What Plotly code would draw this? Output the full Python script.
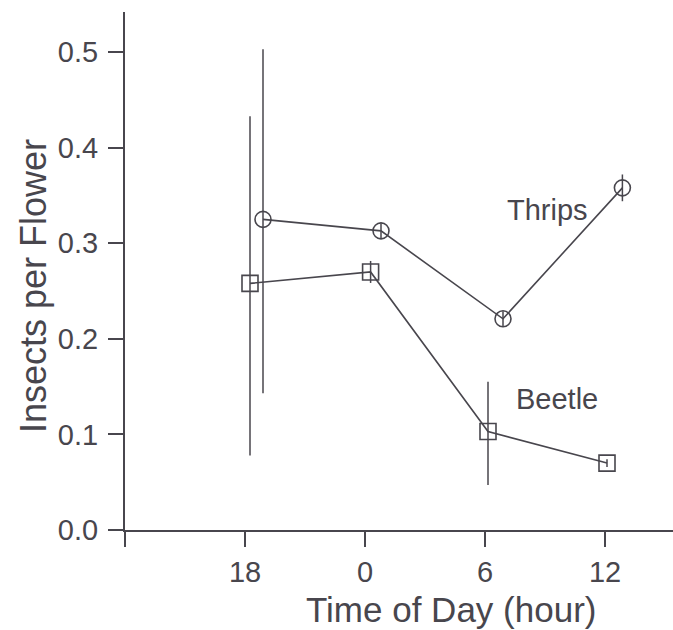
import plotly.graph_objects as go

# Hours since 12:00 (noon) on the first day; tick labels show clock time
tick_hours = [0, 6, 12, 18, 24]
tick_labels = ["", "18", "0", "6", "12"]

# Thrips visits (circles)
thrips_hours = [6.9, 12.8, 18.9, 24.87]
thrips_mean = [0.325, 0.313, 0.221, 0.358]
thrips_err_up = [0.178, 0.008, 0.008, 0.014]
thrips_err_down = [0.182, 0.008, 0.008, 0.014]

# Beetle visits (squares)
beetle_hours = [6.25, 12.28, 18.15, 24.1]
beetle_mean = [0.258, 0.270, 0.103, 0.070]
beetle_err_up = [0.175, 0.0115, 0.052, 0.004]
beetle_err_down = [0.180, 0.0115, 0.056, 0.004]

INK = "#48464d"
FONT = "Liberation Sans"

fig = go.Figure()


def add_series(x, y, up, down, symbol):
    fig.add_trace(go.Scatter(
        x=x, y=y,
        mode="lines+markers",
        line=dict(color=INK, width=1.6),
        marker=dict(symbol=symbol, size=16, color=INK,
                    line=dict(color=INK, width=1.6)),
        error_y=dict(type="data", symmetric=False, array=up, arrayminus=down,
                     color=INK, thickness=1.5, width=0),
        cliponaxis=False,
        showlegend=False,
    ))


add_series(thrips_hours, thrips_mean, thrips_err_up, thrips_err_down, "circle-open")
add_series(beetle_hours, beetle_mean, beetle_err_up, beetle_err_down, "square-open")

# Series labels
fig.add_annotation(x=21.1, y=0.335, text="Thrips", showarrow=False,
                   font=dict(family=FONT, size=29, color=INK))
fig.add_annotation(x=21.6, y=0.137, text="Beetle", showarrow=False,
                   font=dict(family=FONT, size=29, color=INK))

# Axis titles
fig.add_annotation(x=0.595, xref="paper", y=0, yref="paper", text="Time of Day (hour)",
                   showarrow=False, xanchor="center", yanchor="middle", yshift=-79,
                   font=dict(family=FONT, size=35, color=INK))
fig.add_annotation(x=0, xref="paper", y=0.5, yref="paper", text="Insects per Flower",
                   showarrow=False, textangle=-90, xanchor="center", yanchor="middle",
                   xshift=-92, yshift=-15,
                   font=dict(family=FONT, size=36, color=INK))

fig.update_layout(
    width=673, height=630,
    margin=dict(l=125, r=0, t=12, b=100),
    paper_bgcolor="white", plot_bgcolor="white",
    font=dict(family=FONT, color=INK),
)
fig.update_xaxes(
    range=[0, 27.4],
    tickmode="array", tickvals=tick_hours, ticktext=tick_labels,
    ticks="outside", ticklen=15, tickwidth=1.8, tickcolor=INK,
    showline=True, linecolor=INK, linewidth=2,
    showgrid=False, zeroline=False,
    tickfont=dict(family=FONT, size=29, color=INK),
    ticklabelstandoff=0,
)
fig.update_yaxes(
    range=[0, 0.542],
    tickmode="array", tickvals=[0, 0.1, 0.2, 0.3, 0.4, 0.5],
    ticktext=["0.0", "0.1", "0.2", "0.3", "0.4", "0.5"],
    ticks="outside", ticklen=15, tickwidth=1.8, tickcolor=INK,
    showline=True, linecolor=INK, linewidth=2,
    showgrid=False, zeroline=False,
    tickfont=dict(family=FONT, size=29, color=INK),
    ticklabelstandoff=4,
)

fig.write_html("out.html")
